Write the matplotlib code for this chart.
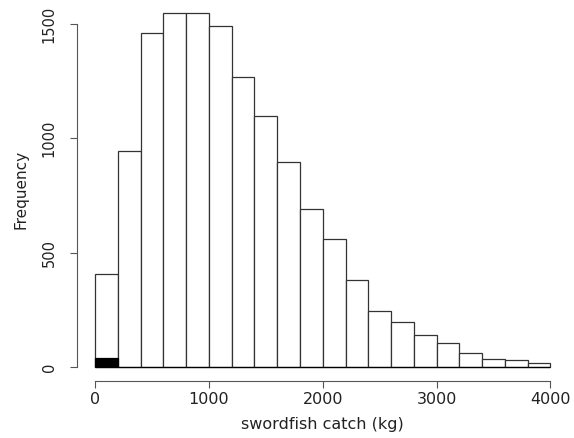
import numpy as np
import matplotlib.pyplot as plt

plt.rcParams['font.family'] = ['DejaVu Sans']

# histogram of swordfish catch, bins of 200 kg
breaks = np.arange(0, 4001, 200)
counts = [404, 945, 1460, 1547, 1547, 1493, 1269, 1096, 896, 690,
          559, 380, 245, 196, 140, 105, 59, 35, 28, 18]
# highlighted subset (black bar)
black_counts = [39] + [0] * 19

W, H = 574, 438
fig = plt.figure(figsize=(W / 100, H / 100), dpi=100)
# axes box in pixels: left 77, right 568.5, top -1, bottom 381
ax = fig.add_axes([77 / W, (H - 381) / H, (568.5 - 77) / W, 382 / H])

widths = np.diff(breaks)
ax.bar(breaks[:-1], counts, width=widths, align='edge',
       facecolor='white', edgecolor='#333333', linewidth=0.9)
ax.bar(breaks[:-1], black_counts, width=widths, align='edge',
       facecolor='black', edgecolor='black', linewidth=0.9)

ax.set_xlim(-160, 4160)
ax.set_ylim(-62, 1609)

for s in ['top', 'right']:
    ax.spines[s].set_visible(False)
ax.spines['left'].set_bounds(0, 1500)
ax.spines['bottom'].set_bounds(0, 4000)
ax.spines['left'].set_color('#555555')
ax.spines['bottom'].set_color('#555555')

ax.set_xticks([0, 1000, 2000, 3000, 4000])
ax.set_yticks([0, 500, 1000, 1500])
ax.tick_params(axis='both', length=4.7, width=0.8, color='#555555')
ax.tick_params(axis='x', pad=3, labelsize=11.5, labelcolor='#222222')
ax.tick_params(axis='y', pad=10, labelsize=10.5, labelcolor='#222222')
for lab in ax.get_yticklabels():
    lab.set_rotation(90)
    lab.set_va('center')

ax.set_xlabel('swordfish catch (kg)', fontsize=11.5, color='#222222')
ax.set_ylabel('Frequency', fontsize=11, color='#222222')
ax.xaxis.set_label_coords(0.5, (381 - 424) / 382)
ax.xaxis.label.set_va('center')
ax.yaxis.set_label_coords((21 - 77) / 491.5, (381 - 189.5) / 382)
ax.yaxis.label.set_va('center')

fig.savefig('out.png', dpi=100)
